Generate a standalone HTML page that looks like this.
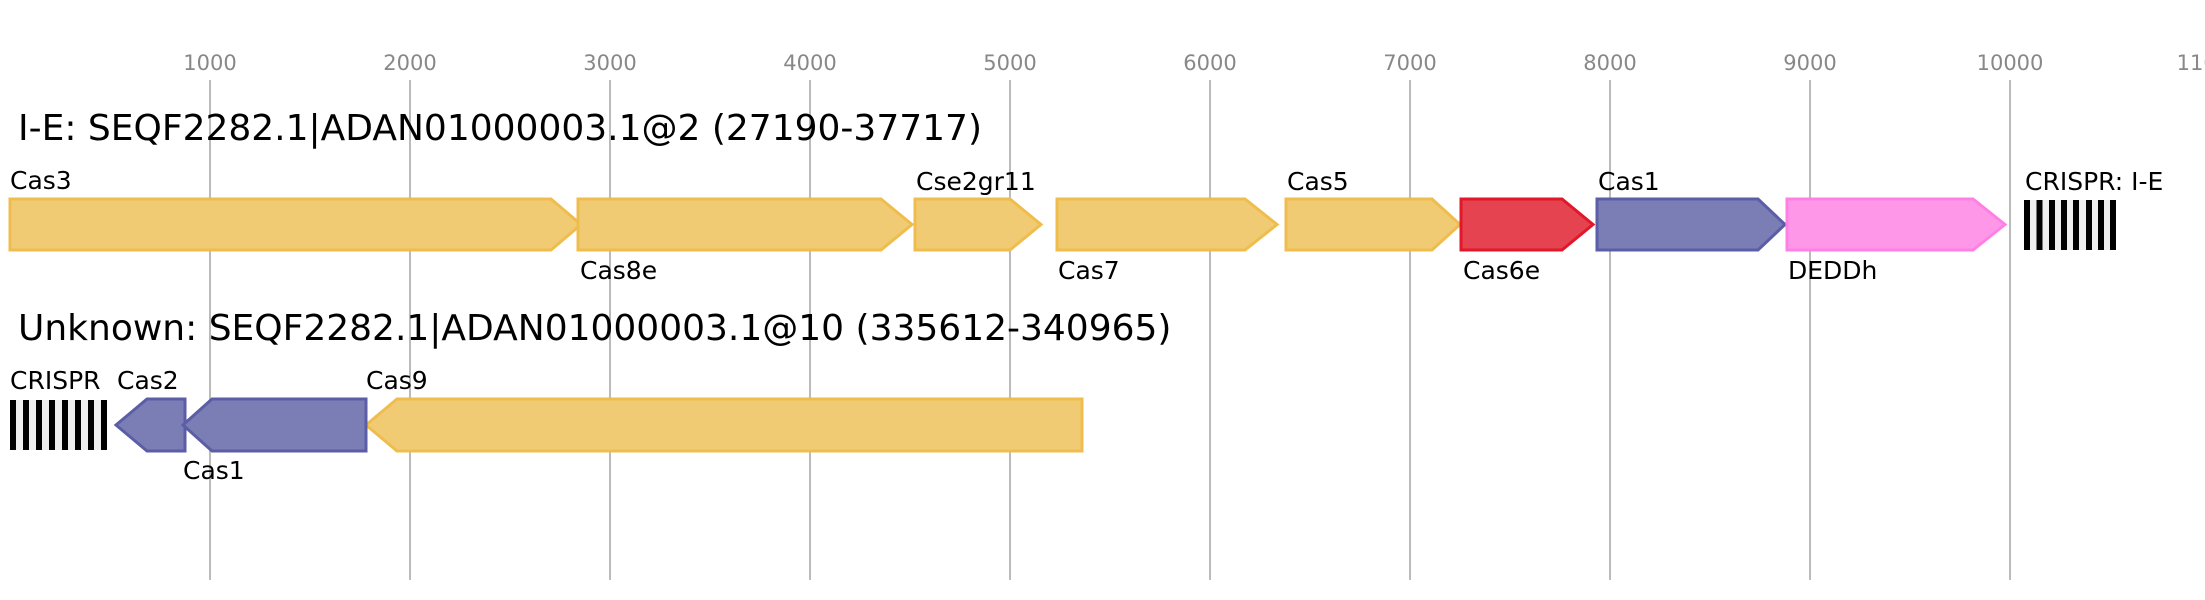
<!DOCTYPE html>
<html><head><meta charset="utf-8"><style>
html,body{margin:0;padding:0;background:#fff;}
svg{display:block;font-family:"DejaVu Sans","Liberation Sans",sans-serif;}
</style></head><body>
<svg width="2205" height="600" viewBox="0 0 2205 600" xmlns="http://www.w3.org/2000/svg">
<g stroke="#bbb" stroke-width="2">
<line x1="210" y1="80" x2="210" y2="580"/><line x1="410" y1="80" x2="410" y2="580"/><line x1="610" y1="80" x2="610" y2="580"/><line x1="810" y1="80" x2="810" y2="580"/><line x1="1010" y1="80" x2="1010" y2="580"/><line x1="1210" y1="80" x2="1210" y2="580"/><line x1="1410" y1="80" x2="1410" y2="580"/><line x1="1610" y1="80" x2="1610" y2="580"/><line x1="1810" y1="80" x2="1810" y2="580"/><line x1="2010" y1="80" x2="2010" y2="580"/>
</g>
<g fill="#888" font-size="21" text-anchor="middle">
<text x="210" y="70">1000</text><text x="410" y="70">2000</text><text x="610" y="70">3000</text><text x="810" y="70">4000</text><text x="1010" y="70">5000</text><text x="1210" y="70">6000</text><text x="1410" y="70">7000</text><text x="1610" y="70">8000</text><text x="1810" y="70">9000</text><text x="2010" y="70">10000</text><text x="2210" y="70">11000</text>
</g>
<g font-size="36" fill="#000">
<text x="18" y="140">I-E: SEQF2282.1|ADAN01000003.1@2 (27190-37717)</text>
<text x="18" y="340">Unknown: SEQF2282.1|ADAN01000003.1@10 (335612-340965)</text>
</g>
<g stroke-width="3" stroke-linejoin="miter">
<g fill="#f1cb73" stroke="#efbd4d">
<polygon points="10,199 551,199 581,224.5 551,250 10,250"/>
<polygon points="578,199 881,199 912,224.5 881,250 578,250"/>
<polygon points="915,199 1010,199 1041,224.5 1010,250 915,250"/>
<polygon points="1057,199 1245,199 1277,224.5 1245,250 1057,250"/>
<polygon points="1286,199 1432,199 1460,224.5 1432,250 1286,250"/>
<polygon points="1082,399 397,399 366,425 397,451 1082,451"/>
</g>
<polygon fill="#e5434f" stroke="#e0182a" points="1461,199 1562,199 1593,224.5 1562,250 1461,250"/>
<g fill="#7b7eb5" stroke="#5b5ea6">
<polygon points="1597,199 1758,199 1785,224.5 1758,250 1597,250"/>
<polygon points="185,399 147,399 116,425 147,451 185,451"/>
<polygon points="366,399 212,399 183,425 212,451 366,451"/>
</g>
<polygon fill="#ff97e9" stroke="#ff80e3" points="1787,199 1973,199 2005,224.5 1973,250 1787,250"/>
</g>
<rect x="2024" y="200" width="92" height="50" fill="#eee"/>
<g fill="#000">
<rect x="2024" y="200" width="6" height="50"/><rect x="2036.5" y="200" width="6" height="50"/><rect x="2049" y="200" width="6" height="50"/><rect x="2061" y="200" width="6" height="50"/><rect x="2073" y="200" width="6" height="50"/><rect x="2086" y="200" width="6" height="50"/><rect x="2098" y="200" width="6" height="50"/><rect x="2110" y="200" width="6" height="50"/>
</g>
<rect x="10" y="400" width="97" height="50" fill="#eee"/>
<g fill="#000">
<rect x="10" y="400" width="6" height="50"/><rect x="23" y="400" width="6" height="50"/><rect x="36" y="400" width="6" height="50"/><rect x="49" y="400" width="6" height="50"/><rect x="62" y="400" width="6" height="50"/><rect x="75" y="400" width="6" height="50"/><rect x="88" y="400" width="6" height="50"/><rect x="101" y="400" width="6" height="50"/>
</g>
<g font-size="25" fill="#000">
<text x="10" y="189">Cas3</text>
<text x="580" y="279">Cas8e</text>
<text x="916" y="190">Cse2gr11</text>
<text x="1058" y="279">Cas7</text>
<text x="1287" y="190">Cas5</text>
<text x="1463" y="279">Cas6e</text>
<text x="1598" y="190">Cas1</text>
<text x="1788" y="279">DEDDh</text>
<text x="2025" y="190">CRISPR: I-E</text>
<text x="10" y="389">CRISPR</text>
<text x="117" y="389">Cas2</text>
<text x="183" y="479">Cas1</text>
<text x="366" y="389">Cas9</text>
</g>
</svg>
</body></html>
